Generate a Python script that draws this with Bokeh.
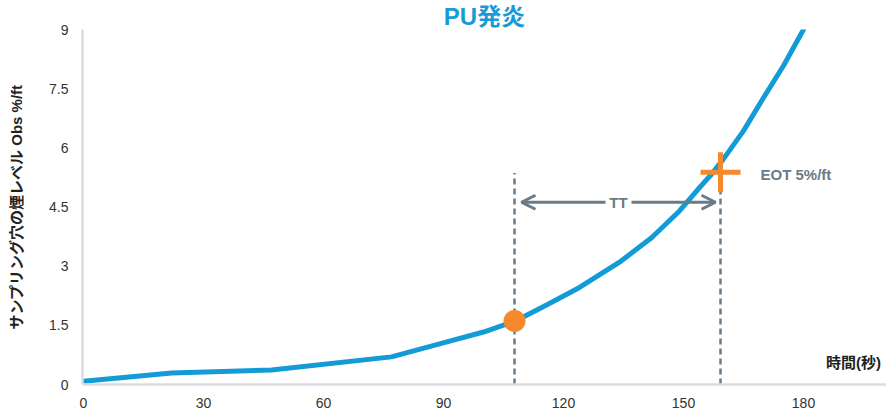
from bokeh.plotting import figure
from bokeh.models import Range1d, FixedTicker, Label, Arrow, OpenHead
from bokeh.embed import file_html
from bokeh.resources import INLINE

# ---- data ----
time_s = [0, 22, 47, 77, 89, 100, 108, 116, 124, 134, 142, 149, 154, 157, 160, 165, 170, 175, 180]
smoke = [0.08, 0.29, 0.37, 0.70, 1.03, 1.33, 1.61, 2.03, 2.46, 3.10, 3.72, 4.40, 4.99, 5.33, 5.72,
         6.43, 7.27, 8.08, 9.0]

start_t = [107.75]
start_v = [1.61]
eot_t = [159.25]
eot_v = [5.38]

dash_x = [107.75, 159.25]
dash_top = [5.36, 5.5]

tt_y = 4.62
tt_left = 109.5
tt_right = 158.0
tt_gap = (130.5, 137.0)

x_ticks = [0, 30, 60, 90, 120, 150, 180]
y_ticks = [0, 1.5, 3, 4.5, 6, 7.5, 9]
y_tick_labels = ["0", "1.5", "3", "4.5", "6", "7.5", "9"]

title_text = "PU発炎"
y_label = "サンプリング穴の煙レベル Obs %/ft"
x_label = "時間(秒)"
eot_label = "EOT 5%/ft"
tt_label = "TT"

FONT = "'Liberation Sans', 'Noto Sans CJK JP'"
BLUE = "#139bd8"
ORANGE = "#f5892b"
SLATE = "#6b7a87"
AXIS = "#d9dde3"

p = figure(width=886, height=415, output_backend="svg", toolbar_location=None,
           x_range=Range1d(-0.25, 200.75), y_range=Range1d(0, 9),
           min_border_left=82, min_border_right=0, min_border_top=29, min_border_bottom=31,
           title=title_text)
p.title.align = "center"
p.title.text_font = FONT
p.title.text_font_size = "24px"
p.title.text_font_style = "bold"
p.title.text_color = "#1a9ad6"
p.title.standoff = 0
p.title.offset = 0

p.outline_line_color = None
p.xgrid.visible = False
p.ygrid.visible = False
p.background_fill_color = "white"
p.border_fill_color = "white"

for ax in (p.xaxis[0], p.yaxis[0]):
    ax.axis_line_color = AXIS
    ax.axis_line_width = 2.5
    ax.major_tick_line_color = None
    ax.minor_tick_line_color = None
    ax.major_tick_out = 0
    ax.major_tick_in = 0
    ax.major_label_text_font = FONT
    ax.major_label_text_font_size = "14px"
    ax.major_label_text_color = "#333333"

p.xaxis.ticker = FixedTicker(ticks=x_ticks)
p.yaxis.ticker = FixedTicker(ticks=y_ticks)
p.yaxis.major_label_overrides = {t: l for t, l in zip(y_ticks, y_tick_labels)}
p.xaxis.major_label_standoff = 13
p.yaxis.major_label_standoff = 14

p.yaxis.axis_label = y_label
p.yaxis.axis_label_text_font = FONT
p.yaxis.axis_label_text_font_size = "15px"
p.yaxis.axis_label_text_font_style = "bold"
p.yaxis.axis_label_text_color = "#222222"
p.yaxis.axis_label_standoff = 21

# dashed guide lines
p.segment(x0=dash_x, y0=[0] * len(dash_x), x1=dash_x, y1=dash_top,
          line_color=SLATE, line_width=2.5, line_dash="6 4")

# main curve
p.line(time_s, smoke, line_color=BLUE, line_width=5, line_join="round", line_cap="round")

# markers
p.scatter(start_t, start_v, marker="circle", size=22, fill_color=ORANGE, line_color=None)
p.scatter(eot_t, eot_v, marker="cross", size=40, line_color=ORANGE, line_width=5)

# TT arrows
p.add_layout(Arrow(x_start=tt_gap[0], y_start=tt_y, x_end=tt_left, y_end=tt_y,
                   line_color=SLATE, line_width=3,
                   end=OpenHead(size=14, line_color=SLATE, line_width=3)))
p.add_layout(Arrow(x_start=tt_gap[1], y_start=tt_y, x_end=tt_right, y_end=tt_y,
                   line_color=SLATE, line_width=3,
                   end=OpenHead(size=14, line_color=SLATE, line_width=3)))
p.add_layout(Label(x=(tt_gap[0] + tt_gap[1]) / 2, y=tt_y, text=tt_label,
                   text_align="center", text_baseline="middle",
                   text_font=FONT, text_font_size="15px", text_font_style="bold",
                   text_color=SLATE))

# EOT label
p.add_layout(Label(x=169.25, y=5.33, text=eot_label, text_align="left", text_baseline="middle",
                   text_font=FONT, text_font_size="15px", text_font_style="bold",
                   text_color=SLATE))

# x axis label
p.add_layout(Label(x=192.5, y=0.55, text=x_label, text_align="center", text_baseline="middle",
                   text_font=FONT, text_font_size="15px", text_font_style="bold",
                   text_color="#222222"))

open("out.html", "w").write(file_html(p, INLINE))
